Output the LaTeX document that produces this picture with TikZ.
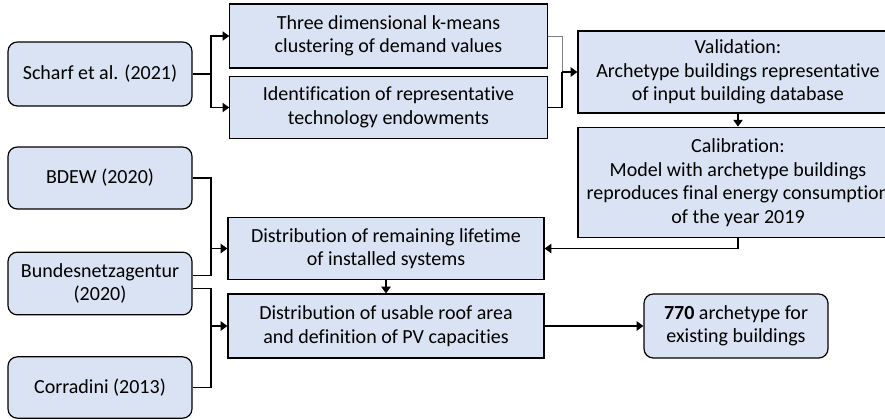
\documentclass[tikz,border=0pt]{standalone}
\usepackage{fontspec}
\setmainfont[Ligatures=NoCommon]{Carlito}
\usetikzlibrary{positioning,arrows.meta}
\definecolor{boxblue}{HTML}{DAE3F3}

\begin{document}
\begin{tikzpicture}[
  x=0.75pt, y=-0.75pt,
  box/.style={rectangle, draw, line width=0.9pt, fill=boxblue, align=center,
    inner sep=0pt, font=\fontsize{15}{17.6}\selectfont},
  src/.style={box, rounded corners=7pt, minimum width=138pt},
  conn/.style={line width=0.8pt},
  >={Triangle[length=5pt,width=7pt]}
]
\clip (0,0) rectangle (885,419);

\node[src, minimum height=48pt] (scharf) at (100,74) {Scharf et al. (2021)};
\node[src, minimum height=46.5pt] (bdew) at (100,178) {BDEW (2020)};
\node[src, minimum height=47pt] (bnetz) at (100,283.5) {Bundesnetzagentur\\(2020)};
\node[src, minimum height=46pt] (corr) at (100,387.5) {Corradini (2013)};

\node[box, minimum width=238pt, minimum height=48pt] (kmeans) at (388.5,36)
  {Three dimensional k-means\\clustering of demand values};
\node[box, minimum width=238pt, minimum height=46pt] (ident) at (388.5,107.5)
  {Identification of representative\\technology endowments};
\node[box, minimum width=240pt, minimum height=61.5pt] (valid) at (738,72)
  {Validation:\\Archetype buildings representative\\of input building database};
\node[box, minimum width=240pt, minimum height=83pt] (calib) at (738,182.5)
  {Calibration:\\Model with archetype buildings\\reproduces final energy consumption\\of the year 2019};
\node[box, minimum width=237pt, minimum height=47pt] (life) at (386,248.5)
  {Distribution of remaining lifetime\\of installed systems};
\node[box, minimum width=237pt, minimum height=48pt] (roof) at (386,326)
  {Distribution of usable roof area\\and definition of PV capacities};
\node[src, minimum height=48pt] (arch) at (736,326)
  {\textbf{770} archetype for\\existing buildings};

\coordinate (j1) at (211,74);
\coordinate (j2) at (562,72);
\coordinate (j3) at (211,248.5);
\coordinate (j4) at (211,326);

\draw[conn] (scharf.east) -- (j1);
\draw[conn,->] (j1) |- (kmeans.west);
\draw[conn,->] (j1) |- (ident.west);

\draw[gray, line width=0.5pt] (kmeans.east) -| (j2);
\draw[conn] (ident.east) -| (j2);
\draw[conn,->] (j2) -- (valid.west);

\draw[conn,->] (valid.south -| calib.north) -- (calib.north);
\draw[conn,->] (calib.south) |- (life.east);

\draw[conn] (bdew.east) -| (j3);
\draw[conn] ([yshift=6pt]bnetz.east) -| (j3);
\draw[conn,->] (j3) -- (life.west);

\draw[conn] ([yshift=-4pt]bnetz.east) -| (j4);
\draw[conn] (corr.east) -| (j4);
\draw[conn,->] (j4) -- (roof.west);

\draw[conn,->] (life.south) -- (roof.north);
\draw[conn,->] (roof.east) -- (arch.west);
\end{tikzpicture}
\end{document}
